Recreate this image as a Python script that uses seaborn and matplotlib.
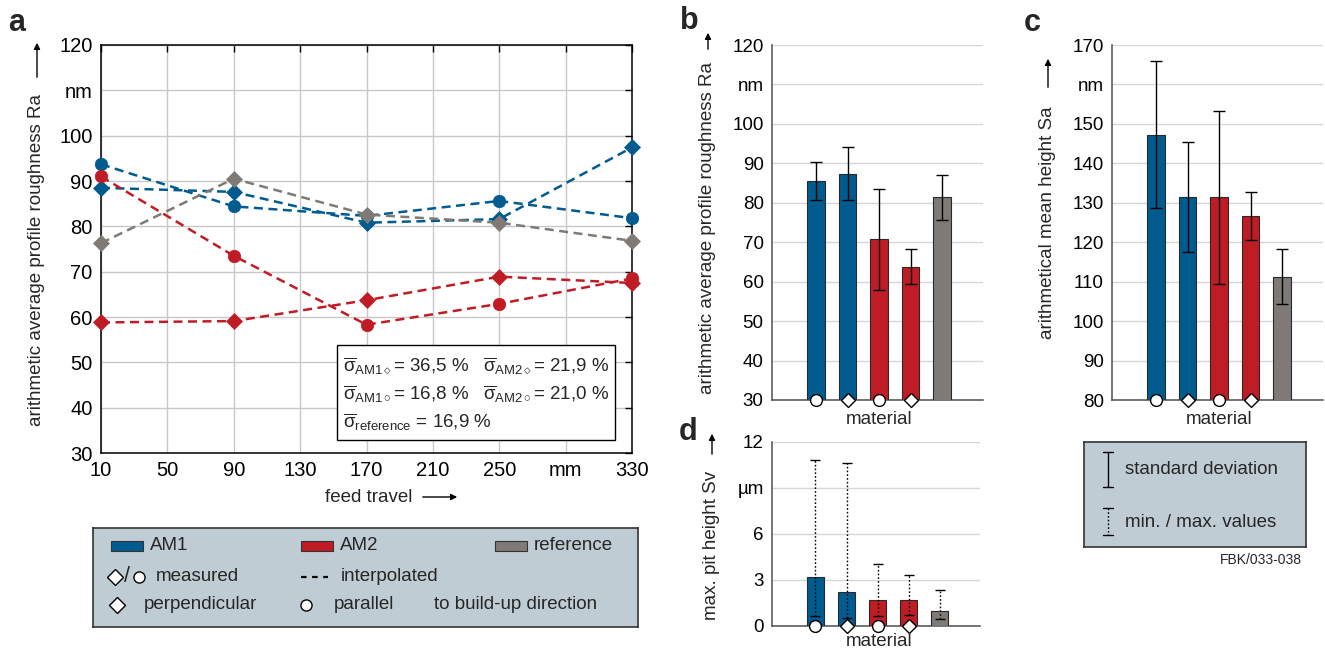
import numpy as np
import pandas as pd
import matplotlib
matplotlib.use("Agg")
import matplotlib.pyplot as plt
import seaborn as sns
from matplotlib.patches import Rectangle, FancyArrowPatch

# ---------------- data ----------------
feed_travel = [10, 90, 170, 250, 330]
ra_am1_par = [93.7, 84.4, 82.3, 85.6, 81.8]
ra_am1_perp = [88.5, 87.6, 80.8, 81.6, 97.4]
ra_am2_par = [91.0, 73.5, 58.3, 62.9, 68.5]
ra_am2_perp = [58.8, 59.1, 63.7, 68.9, 67.5]
ra_ref = [76.3, 90.5, 82.6, 80.8, 76.8]

materials = ["AM1 ○", "AM1 ◇", "AM2 ○", "AM2 ◇", "reference"]
ra_mean = [85.5, 87.4, 70.8, 63.8, 81.4]
ra_sd = [4.75, 6.7, 12.8, 4.5, 5.75]
sa_mean = [147.3, 131.5, 131.4, 126.6, 111.3]
sa_sd = [18.6, 14.0, 21.9, 6.1, 7.0]
sv_mean = [3.22, 2.2, 1.72, 1.72, 1.0]
sv_min = [0.65, 0.55, 0.65, 0.7, 0.45]
sv_max = [10.85, 10.65, 4.05, 3.35, 2.33]

sigma_texts = [r"$\overline{\mathrm{\sigma}}_{\mathrm{AM1}\diamond}$= 36,5 %",
               r"$\overline{\mathrm{\sigma}}_{\mathrm{AM2}\diamond}$= 21,9 %",
               r"$\overline{\mathrm{\sigma}}_{\mathrm{AM1}\circ}$= 16,8 %",
               r"$\overline{\mathrm{\sigma}}_{\mathrm{AM2}\circ}$= 21,0 %",
               r"$\overline{\mathrm{\sigma}}_{\mathrm{reference}}$ = 16,9 %"]

feed_ticks = [10, 50, 90, 130, 170, 210, 250, 290, 330]
feed_tick_labels = ["10", "50", "90", "130", "170", "210", "250", "mm", "330"]
ra_ticks = [30, 40, 50, 60, 70, 80, 90, 100, 110, 120]
ra_tick_labels = ["30", "40", "50", "60", "70", "80", "90", "100", "nm", "120"]
sa_ticks = [80, 90, 100, 110, 120, 130, 140, 150, 160, 170]
sa_tick_labels = ["80", "90", "100", "110", "120", "130", "140", "150", "nm", "170"]
sv_ticks = [0, 3, 6, 9, 12]
sv_tick_labels = ["0", "3", "6", "µm", "12"]

# ---------------- style ----------------
BLUE = "#005b8e"
RED = "#c01c25"
GREY = "#7f7a75"
BOXC = "#c0ccd4"
bar_colors = [BLUE, BLUE, RED, RED, GREY]
bottom_markers = ["o", "D", "o", "D"]

sns.set_style("white")
plt.rcParams["font.family"] = ["Liberation Sans", "DejaVu Sans"]
plt.rcParams["mathtext.fontset"] = "custom"
plt.rcParams["mathtext.rm"] = "Liberation Sans"
plt.rcParams["mathtext.it"] = "Liberation Sans:italic"
plt.rcParams["mathtext.bf"] = "Liberation Sans:bold"
plt.rcParams["mathtext.sf"] = "Liberation Sans"
FS = 13.5

W, H = 1325, 650
fig = plt.figure(figsize=(W / 100, H / 100), dpi=100)


def rect(l, t, r, b):
    return [l / W, 1 - b / H, (r - l) / W, (b - t) / H]


def ftext(x, y, s, **kw):
    kw.setdefault("fontsize", FS)
    return fig.text(x / W, 1 - y / H, s, **kw)


def farrow(x0, y0, x1, y1):
    fig.add_artist(FancyArrowPatch((x0 / W, 1 - y0 / H), (x1 / W, 1 - y1 / H),
                                   transform=fig.transFigure, arrowstyle="-|>",
                                   mutation_scale=9, lw=1.0, color="k"))


# ---------------- panel a ----------------
ax = fig.add_axes(rect(101, 45, 632, 453))
series = [(ra_am1_par, BLUE, "o"), (ra_am1_perp, BLUE, "D"),
          (ra_am2_par, RED, "o"), (ra_am2_perp, RED, "D"),
          (ra_ref, GREY, "D")]
for vals, col, mk in series:
    sns.lineplot(x=feed_travel, y=vals, ax=ax, color=col, marker=mk,
                 markersize=9 if mk == "o" else 8.5, markeredgecolor=col,
                 markeredgewidth=0.5, linewidth=1.8, linestyle="--",
                 errorbar=None, clip_on=False, zorder=3)
    ax.lines[-1].set_dashes([3.6, 2.2])
ax.set_xlim(10, 330)
ax.set_ylim(30, 120)
ax.set_xticks(feed_ticks)
ax.set_xticklabels(feed_tick_labels)
ax.set_yticks(ra_ticks)
ax.set_yticklabels(ra_tick_labels)
ax.grid(True, color="#c8c8c8", lw=1.0)
ax.set_axisbelow(True)
ax.tick_params(direction="in", top=True, right=True, length=5, width=1,
               labelsize=14.5, pad=6, colors="k")
for s in ax.spines.values():
    s.set_color("k")
    s.set_linewidth(1.1)
ax.set_xlabel("")
ax.set_ylabel("")
# sigma box
ax.add_patch(Rectangle((0.444, 0.032), 0.524, 0.233, transform=ax.transAxes,
                       facecolor="white", edgecolor="k", lw=1.0, zorder=6))
pos = [(0.455, 0.212), (0.720, 0.212), (0.455, 0.145), (0.720, 0.145), (0.455, 0.075)]
for (px, py), s in zip(pos, sigma_texts):
    ax.text(px, py, s, transform=ax.transAxes, fontsize=FS, va="center",
            ha="left", zorder=7)

ftext(37, 260, "arithmetic average profile roughness Ra", rotation=90,
      ha="center", va="center")
farrow(37, 80, 37, 40)
ftext(412, 497, "feed travel", ha="right", va="center")
farrow(420, 497, 460, 497)
ftext(17, 23, "a", fontsize=22, fontweight="bold", ha="center", va="center")


# ---------------- bar panels ----------------
def bar_panel(r, means, ylim, ticks, ticklabels, sd=None, lo=None, hi=None,
              base_markers=True):
    bx = fig.add_axes(rect(*r))
    sns.barplot(x=materials, y=means, hue=materials, palette=bar_colors,
                order=materials, legend=False, ax=bx, width=0.56,
                edgecolor="#2a2a2a", linewidth=0.8, saturation=1, zorder=3)
    xs = np.arange(len(means))
    if sd is not None:
        bx.errorbar(xs, means, yerr=sd, fmt="none", ecolor="k", elinewidth=1.0,
                    capsize=4, capthick=1.0, zorder=4)
    if lo is not None:
        m = np.array(means)
        eb = bx.errorbar(xs, means, yerr=[m - np.array(lo), np.array(hi) - m],
                         fmt="none", ecolor="k", elinewidth=1.0, capsize=3.5,
                         capthick=1.0, zorder=4)
        for lc in eb[2]:
            lc.set_linestyle((0, (1.2, 1.5)))
    bx.set_xlim(-1.4, 5.3)
    bx.set_ylim(*ylim)
    bx.set_yticks(ticks)
    bx.set_yticklabels(ticklabels)
    bx.set_xticks([])
    bx.set_xlabel("")
    bx.set_ylabel("")
    bx.grid(True, axis="y", color="#d6d6d6", lw=1.0)
    bx.set_axisbelow(True)
    bx.tick_params(axis="y", direction="in", length=5, width=1, labelsize=FS,
                   pad=6, colors="k")
    for side in ["top", "right"]:
        bx.spines[side].set_visible(False)
    for side in ["left", "bottom"]:
        bx.spines[side].set_color("#505050")
        bx.spines[side].set_linewidth(1.1)
    if base_markers:
        for i, mk in enumerate(bottom_markers):
            bx.plot([i], [ylim[0]], marker=mk, markersize=8.5 if mk == "o" else 7.5,
                    markerfacecolor="white", markeredgecolor="k",
                    markeredgewidth=1.0, clip_on=False, zorder=8, linestyle="none")
    return bx


bar_panel((772, 45, 983, 400), ra_mean, (30, 120), ra_ticks, ra_tick_labels, sd=ra_sd)
bar_panel((1112, 45, 1323, 400), sa_mean, (80, 170), sa_ticks, sa_tick_labels, sd=sa_sd)
bar_panel((772, 442, 980, 626), sv_mean, (0, 12), sv_ticks, sv_tick_labels,
          lo=sv_min, hi=sv_max)

ftext(708, 228, "arithmetic average profile roughness Ra", rotation=90,
      ha="center", va="center")
farrow(708, 52, 708, 30)
ftext(1048, 223, "arithmetical mean height Sa", rotation=90, ha="center", va="center")
farrow(1048, 90, 1048, 56)
ftext(712, 545, "max. pit height Sv", rotation=90, ha="center", va="center")
farrow(712, 457, 712, 431)
ftext(879, 419, "material", ha="center", va="center")
ftext(1219, 419, "material", ha="center", va="center")
ftext(879, 642, "material", ha="center", va="center")
ftext(689, 21, "b", fontsize=22, fontweight="bold", ha="center", va="center")
ftext(1032, 23, "c", fontsize=22, fontweight="bold", ha="center", va="center")
ftext(688, 432, "d", fontsize=22, fontweight="bold", ha="center", va="center")

# ---------------- legend box (bottom left) ----------------
lg = fig.add_axes(rect(93, 528, 638, 627))
lg.set_xlim(93, 638)
lg.set_ylim(627, 528)
lg.set_facecolor(BOXC)
lg.set_xticks([])
lg.set_yticks([])
for s in lg.spines.values():
    s.set_color("#333333")
    s.set_linewidth(1.2)
r1, r2, r3 = 546, 577, 605
for x0, col, lab in [(111, BLUE, "AM1"), (301, RED, "AM2"), (495, GREY, "reference")]:
    lg.add_patch(Rectangle((x0, r1 - 5), 32, 10, facecolor=col, edgecolor="#333333", lw=0.8))
    lg.text(x0 + 39, r1, lab, fontsize=FS, va="center", ha="left")
mk_kw = dict(markerfacecolor="white", markeredgecolor="k", markeredgewidth=1.0,
             linestyle="none", clip_on=False)
lg.plot([115], [r2], marker="D", markersize=8, **mk_kw)
lg.text(127, r2, "/", fontsize=FS + 2, va="center", ha="center")
lg.plot([139], [r2], marker="o", markersize=8, **mk_kw)
lg.text(156, r2, "measured", fontsize=FS, va="center", ha="left")
lg.plot([301, 328], [r2, r2], color="k", lw=1.6, dashes=[2.5, 2.5])
lg.text(341, r2, "interpolated", fontsize=FS, va="center", ha="left")
lg.plot([117], [r3], marker="D", markersize=8, **mk_kw)
lg.text(144, r3, "perpendicular", fontsize=FS, va="center", ha="left")
lg.plot([306], [r3], marker="o", markersize=8, **mk_kw)
lg.text(334, r3, "parallel", fontsize=FS, va="center", ha="left")
lg.text(434, r3, "to build-up direction", fontsize=FS, va="center", ha="left")

# ---------------- legend box (right) ----------------
lc = fig.add_axes(rect(1084, 442, 1306, 547))
lc.set_xlim(1084, 1306)
lc.set_ylim(547, 442)
lc.set_facecolor(BOXC)
lc.set_xticks([])
lc.set_yticks([])
for s in lc.spines.values():
    s.set_color("#333333")
    s.set_linewidth(1.2)
lc.plot([1108, 1108], [452, 487], color="k", lw=1.0)
lc.plot([1103, 1113], [452, 452], color="k", lw=1.0)
lc.plot([1103, 1113], [487, 487], color="k", lw=1.0)
lc.text(1125, 469, "standard deviation", fontsize=FS, va="center", ha="left")
lc.plot([1108, 1108], [508, 535], color="k", lw=1.0, dashes=[1.2, 1.5])
lc.plot([1103, 1113], [508, 508], color="k", lw=1.0)
lc.plot([1103, 1113], [535, 535], color="k", lw=1.0)
lc.text(1125, 522, "min. / max. values", fontsize=FS, va="center", ha="left")
ftext(1302, 560, "FBK/033-038", fontsize=10, ha="right", va="center")

fig.savefig("out.png", dpi=100)
